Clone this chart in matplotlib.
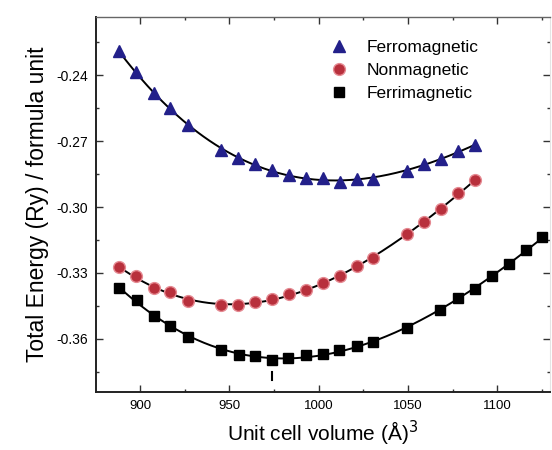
import numpy as np
import matplotlib
matplotlib.use("Agg")
import matplotlib.pyplot as plt
from matplotlib.ticker import FixedLocator

plt.rcParams['font.family'] = ['Liberation Sans', 'DejaVu Sans']

# Data
vol_fm = [888.2, 897.8, 907.6, 917.0, 926.7, 945.4, 954.9, 964.4, 973.8, 983.4,
          992.8, 1002.5, 1011.9, 1021.3, 1030.3, 1049.3, 1059.2, 1068.6, 1078.2, 1087.5]
e_ferro = [-0.2291, -0.2385, -0.2480, -0.2551, -0.2628, -0.2740, -0.2777, -0.2804,
           -0.2832, -0.2853, -0.2870, -0.2870, -0.2886, -0.2871, -0.2872, -0.2836,
           -0.2804, -0.2782, -0.2746, -0.2717]
e_non = [-0.3273, -0.3315, -0.3370, -0.3389, -0.3426, -0.3446, -0.3446, -0.3431,
         -0.3420, -0.3398, -0.3378, -0.3344, -0.3315, -0.3269, -0.3230, -0.3125,
         -0.3067, -0.3008, -0.2938, -0.2877]
vol_fi = [888.2, 898.3, 907.8, 917.0, 926.9, 945.5, 955.4, 964.5, 973.7, 982.8,
          992.8, 1002.4, 1011.4, 1021.3, 1030.6, 1049.7, 1067.9, 1078.1, 1087.5,
          1097.1, 1106.7, 1116.2, 1125.2]
e_ferri = [-0.3368, -0.3423, -0.3496, -0.3541, -0.3590, -0.3653, -0.3672, -0.3680,
           -0.3698, -0.3687, -0.3672, -0.3669, -0.3650, -0.3633, -0.3616, -0.3550,
           -0.3471, -0.3416, -0.3372, -0.3314, -0.3261, -0.3194, -0.3138]
labels = ["Ferromagnetic", "Nonmagnetic", "Ferrimagnetic"]
xticks = [900, 950, 1000, 1050, 1100]
yticks = [-0.24, -0.27, -0.30, -0.33, -0.36]
min_vol = 974.0

fig = plt.figure(figsize=(5.52, 4.5), dpi=100)
ax = fig.add_axes([0.174, 0.129, 0.822, 0.834])

def fit_line(x, y, deg=3):
    x = np.asarray(x); y = np.asarray(y)
    c = np.polyfit(x, y, deg)
    xx = np.linspace(x.min(), x.max(), 300)
    return xx, np.polyval(c, xx)

for x, y in [(vol_fm, e_ferro), (vol_fm, e_non), (vol_fi, e_ferri)]:
    xx, yy = fit_line(x, y)
    ax.plot(xx, yy, color='black', lw=1.4, zorder=2)

ax.plot(vol_fm, e_ferro, ls='none', marker='^', ms=8, color='#23208a',
        mec='#23208a', zorder=3, label=labels[0])
ax.plot(vol_fm, e_non, ls='none', marker='o', ms=8.5, color='#b8303c',
        mec='#e58a92', mew=1.0, zorder=3, label=labels[1])
ax.plot(vol_fi, e_ferri, ls='none', marker='s', ms=6.5, color='black',
        zorder=3, label=labels[2])

# small marker at minimum
ax.plot([min_vol, min_vol], [-0.3786, -0.3749], color='black', lw=1.5, zorder=2)

ax.set_xlim(875.4, 1129.4)
ax.set_ylim(-0.3842, -0.2133)
ax.xaxis.set_major_locator(FixedLocator(xticks))
ax.xaxis.set_minor_locator(FixedLocator([925, 975, 1025, 1075, 1125]))
ax.yaxis.set_major_locator(FixedLocator(yticks))
ax.yaxis.set_minor_locator(FixedLocator([-0.225, -0.255, -0.285, -0.315, -0.345, -0.375]))
ax.set_xticklabels([str(v) for v in xticks])
ax.set_yticklabels([f'{v:.2f}' for v in yticks])

ax.tick_params(which='both', direction='in', top=True, right=True,
               width=1.0, color='#333333')
ax.tick_params(axis='x', labelsize=9.5)
ax.tick_params(axis='y', labelsize=10)
ax.tick_params(which='major', length=5, pad=6)
ax.tick_params(which='minor', length=2.5)
for s in ['left', 'bottom']:
    ax.spines[s].set_linewidth(1.4)
    ax.spines[s].set_color('#222222')
ax.spines['top'].set_color('#666666')
ax.spines['top'].set_linewidth(1.0)
ax.spines['right'].set_color('#e4e4e4')

ax.set_xlabel('Unit cell volume (Å)$^3$', fontsize=15, labelpad=5)
ax.set_ylabel('Total Energy (Ry) / formula unit', fontsize=16.5, labelpad=5)

leg = ax.legend(loc='upper left', bbox_to_anchor=(0.49, 0.965), frameon=False,
                fontsize=12.5, handletextpad=1.0, labelspacing=0.45,
                borderaxespad=0.2, handlelength=1.2)

fig.savefig('out.png', dpi=100)
